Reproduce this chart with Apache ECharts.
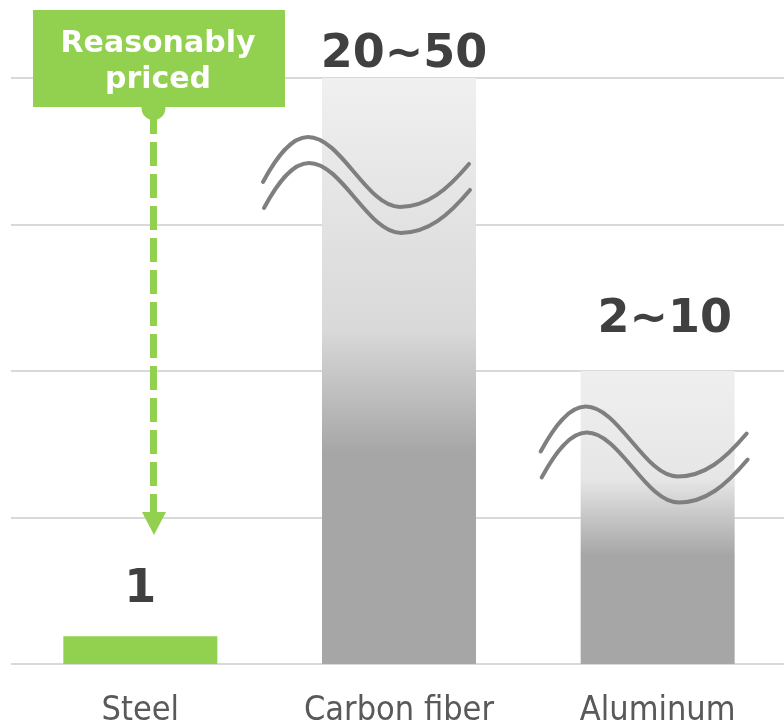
<!DOCTYPE html>
<html>
<head>
<meta charset="utf-8">
<script src="https://cdn.jsdelivr.net/npm/echarts@6/dist/echarts.min.js"></script>
<style>
  html, body { margin: 0; padding: 0; background: #ffffff; }
  #chart { width: 784px; height: 724px; }
</style>
</head>
<body>
<div id="chart"></div>
<script>
// ---- data ----
const categories = ['Steel', 'Carbon fiber', 'Aluminum'];
const barValues = [0.19, 4, 2];            // relative cost (axis units)
const valueLabels = ['1', '20~50', '2~10'];
const breakMarks = [[1, 3.27], [2, 1.43]]; // [category index, value] where the axis break wave sits
const annotationText = 'Reasonably\npriced';

// ---- styles ----
const GREEN = '#92d050';
const labelDistance = [23, 0, 28];
const labelOffsetX = [0, 5, 7];
const breakOffsetX = [0, 0, 19];

function grad(stops) {
  return new echarts.graphic.LinearGradient(0, 0, 0, 1,
    stops.map(s => ({ offset: s[0], color: s[1] })));
}
const barColors = [
  GREEN,
  grad([[0, '#f0f0f0'], [0.29, '#e0e0e0'], [0.43, '#d9d9d9'], [0.64, '#a6a6a6'], [1, '#a6a6a6']]),
  grad([[0, '#efefef'], [0.37, '#e6e6e6'], [0.63, '#a6a6a6'], [1, '#a6a6a6']])
];

const upperWave = 'M -136 -3 C -123 -27 -108 -48 -91 -48 C -58 -48 -32 22 1 22 C 28 22 48 5 70 -21';

const chart = echarts.init(document.getElementById('chart'));
chart.setOption({
  animation: false,
  backgroundColor: '#ffffff',
  grid: { left: 11, width: 776, top: 78, bottom: 60, containLabel: false, outerBoundsMode: 'none' },
  xAxis: {
    type: 'category',
    data: categories,
    axisLine: { show: false },
    axisTick: { show: false },
    axisLabel: {
      interval: 0,
      hideOverlap: false,
      color: '#595959',
      fontFamily: '"DejaVu Sans Condensed", sans-serif',
      fontSize: 34,
      margin: 30
    }
  },
  yAxis: {
    type: 'value',
    min: 0,
    max: 4,
    interval: 1,
    axisLabel: { show: false },
    axisLine: { show: false },
    axisTick: { show: false },
    splitLine: { lineStyle: { color: '#d9d9d9', width: 2 } }
  },
  series: [
    {
      type: 'bar',
      barWidth: 154,
      data: barValues.map((v, i) => ({
        value: v,
        itemStyle: { color: barColors[i] },
        label: {
          show: true,
          position: 'top',
          distance: labelDistance[i],
          offset: [labelOffsetX[i], 0],
          formatter: valueLabels[i],
          color: '#404040',
          fontFamily: 'DejaVu Sans',
          fontWeight: 'bold',
          fontSize: 46
        }
      }))
    },
    {
      type: 'custom',
      z: 5,
      data: breakMarks,
      renderItem: function (params, api) {
        const ci = api.value(0);
        const p = api.coord([ci, api.value(1)]);
        const st = { fill: null, stroke: '#7f7f7f', lineWidth: 4, lineCap: 'round' };
        return {
          type: 'group',
          x: p[0] + breakOffsetX[ci],
          y: p[1],
          children: [
            { type: 'path', shape: { pathData: upperWave }, style: st },
            { type: 'path', x: 1, y: 26, shape: { pathData: upperWave }, style: st }
          ]
        };
      }
    }
  ],
  graphic: [
    { type: 'line', z: 10, shape: { x1: 153.5, y1: 110, x2: 153.5, y2: 486 },
      style: { stroke: GREEN, lineWidth: 7, lineDash: [24, 8] } },
    { type: 'line', z: 10, shape: { x1: 153.5, y1: 494, x2: 153.5, y2: 514 },
      style: { stroke: GREEN, lineWidth: 7 } },
    { type: 'polygon', z: 10, shape: { points: [[142, 512], [166, 512], [154, 535]] },
      style: { fill: GREEN } },
    { type: 'circle', z: 10, shape: { cx: 153.5, cy: 108, r: 12 }, style: { fill: GREEN } },
    { type: 'rect', z: 11, shape: { x: 33, y: 10, width: 252, height: 97 }, style: { fill: GREEN } },
    { type: 'text', z: 12, x: 158, y: 62,
      style: {
        text: annotationText,
        fill: '#ffffff',
        font: 'bold 30px "DejaVu Sans"',
        lineHeight: 36,
        align: 'center',
        verticalAlign: 'middle'
      } }
  ]
});
</script>
</body>
</html>
